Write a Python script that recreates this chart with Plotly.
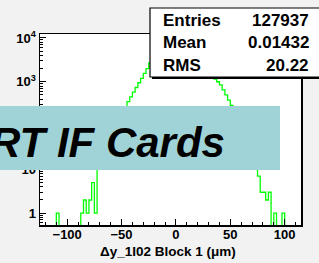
import numpy as np
import plotly.graph_objects as go

# ---- data ----
bin_lo = -125.0
bin_w = 2.5
counts = [
    # -125 .. -100
    0, 0, 0, 0, 0, 0, 1, 0, 0, 0,
    # -100 .. -75
    0, 0, 0, 0, 0, 1, 2, 1, 2, 5,
    # -75 .. -50
    1, 12, 17, 24, 33, 46, 64, 88, 120, 165,
    # -50 .. -25
    220, 270, 350, 450, 580, 740, 950, 1200, 1550, 2000,
    # -25 .. 0
    2700, 3200, 3800, 4400, 5000, 5600, 6100, 6500, 6800, 6900,
    # 0 .. 25
    6900, 6800, 6500, 6100, 5600, 5000, 4400, 3800, 3200, 2700,
    # 25 .. 50
    2200, 1800, 1500, 1250, 1150, 1000, 850, 650, 500, 380,
    # 50 .. 75
    290, 220, 160, 120, 85, 60, 40, 28, 18, 12,
    # 75 .. 100
    7, 3, 3, 2, 3, 0, 1, 0, 0, 1,
    # 100 .. 115
    0, 0, 0, 0, 0, 0,
]
stats_labels = ["Entries", "Mean", "RMS"]
stats_values = ["127937", "0.01432", "20.22"]
x_ticks = [-100, -50, 0, 50, 100]
y_tickvals = [1, 10, 100, 1000, 10000]
y_ticktext = ["1", "10", "10<sup>2</sup>", "10<sup>3</sup>", "10<sup>4</sup>"]
x_title = "Δy_1I02 Block 1 (μm)"
banner_text = "RT IF Cards"

# ---- geometry ----
W, H = 319, 263
L, R, T, B = 40, 18, 34, 38
pw, ph = W - L - R, H - T - B

def px(x):
    return (x - L) / pw

def py(y):
    return (H - B - y) / ph

edges = bin_lo + bin_w * np.arange(len(counts) + 1)
c = np.array(counts, dtype=float)
disp = np.where(c > 0, c, 0.3)
ys = np.append(disp, disp[-1])

fig = go.Figure()
fig.add_trace(go.Scatter(x=edges, y=ys, mode="lines", line_shape="hv",
                         line=dict(color="#00ff00", width=1.3),
                         hoverinfo="skip", showlegend=False))

font = "Liberation Sans, Arial, sans-serif"
fig.update_layout(
    width=W, height=H,
    margin=dict(l=L, r=R, t=T, b=B, pad=0),
    paper_bgcolor="#f2f2f2", plot_bgcolor="white",
    showlegend=False,
    xaxis=dict(range=[-125, 115], tickvals=x_ticks, ticks="inside", ticklen=6,
               tickcolor="black", tickwidth=1, ticklabelstandoff=-3,
               minor=dict(dtick=10, ticks="inside", ticklen=3, tickcolor="black"),
               showgrid=False, zeroline=False, showline=True, linecolor="black",
               linewidth=1.5, mirror=True,
               tickfont=dict(family=font, size=13, color="black", weight="bold")),
    yaxis=dict(type="log", range=[-0.27, 4.09], tickvals=y_tickvals,
               ticktext=y_ticktext, ticks="inside", ticklen=6, tickcolor="black",
               minor=dict(dtick="D1", ticks="inside", ticklen=3, tickcolor="black"),
               showgrid=False, zeroline=False, showline=True, linecolor="black",
               linewidth=1.5, mirror=True,
               tickfont=dict(family=font, size=13, color="black", weight="bold")),
)

# stats box
fig.add_shape(type="rect", xref="paper", yref="paper",
              x0=px(152), x1=px(325), y0=py(79), y1=py(10),
              fillcolor="black", line=dict(width=0), layer="above")
fig.add_shape(type="rect", xref="paper", yref="paper",
              x0=px(150), x1=px(325), y0=py(77), y1=py(8),
              fillcolor="white", line=dict(color="black", width=1.2), layer="above")
for i, (lab, val) in enumerate(zip(stats_labels, stats_values)):
    yc = py(20 + i * 22.5)
    fig.add_annotation(x=px(161), y=yc, xref="paper", yref="paper", text=lab,
                       showarrow=False, xanchor="left", yanchor="middle",
                       font=dict(family=font, size=17, color="black", weight="bold"))
    fig.add_annotation(x=px(311), y=yc, xref="paper", yref="paper", text=val,
                       showarrow=False, xanchor="right", yanchor="middle",
                       font=dict(family=font, size=17, color="black", weight="bold"))

# banner
fig.add_shape(type="rect", xref="paper", yref="paper",
              x0=px(-5), x1=px(280), y0=py(170), y1=py(106),
              fillcolor="#a0d3d7", line=dict(width=0), layer="above")
fig.add_annotation(x=px(227), y=py(142), xref="paper", yref="paper",
                   text="<i>" + banner_text + "</i>", showarrow=False,
                   xanchor="right", yanchor="middle",
                   font=dict(family=font, size=42, color="black", weight="bold"))

# axis title
fig.add_annotation(x=px(168), y=py(251), xref="paper", yref="paper", text=x_title,
                   showarrow=False, xanchor="center", yanchor="middle",
                   font=dict(family=font, size=13.5, color="black", weight="bold"))

fig.write_html("out.html", config={"displayModeBar": False, "staticPlot": True},
               post_script="document.body.style.margin='0';document.body.style.overflow='hidden';")
